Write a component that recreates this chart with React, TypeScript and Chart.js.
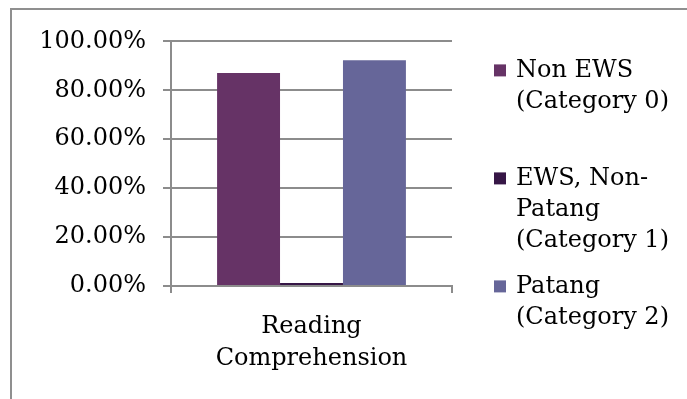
import React, { useEffect, useRef } from 'react';
import { Chart, registerables } from 'chart.js';

Chart.register(...registerables);

// ---- data ----
const categories = [['Reading', 'Comprehension']];
const seriesNames = ['Non EWS (Category 0)', 'EWS, Non-Patang (Category 1)', 'Patang (Category 2)'];
const legendLines = [
  ['Non EWS', '(Category 0)'],
  ['EWS, Non-', 'Patang', '(Category 1)'],
  ['Patang', '(Category 2)'],
];
const nonEws = [87.1];
const ewsNonPatang = [1.2];
const patang = [92.3];
const seriesColors = ['#663366', '#361646', '#666699'];
const yMin = 0;
const yMax = 100;
const yStep = 20;

const FONT_FAMILY = '"DejaVu Serif", serif';
const FONT_SIZE = 24;
const GRID = '#8c8c8c';

const legendPlugin = {
  id: 'sideLegend',
  afterDraw(chart: any) {
    const { ctx, chartArea } = chart;
    const x0 = chartArea.right + 42;
    const textX = chartArea.right + 64;
    const lineH = 31;
    const step = 108;
    ctx.save();
    ctx.font = `${FONT_SIZE}px ${FONT_FAMILY}`;
    ctx.textBaseline = 'alphabetic';
    ctx.textAlign = 'left';
    chart.data.datasets.forEach((ds: any, i: number) => {
      const base = chartArea.top + 36 + i * step;
      ctx.fillStyle = ds.backgroundColor;
      ctx.fillRect(x0, base - 13, 12, 12);
      ctx.fillStyle = '#000';
      legendLines[i].forEach((line, j) => {
        ctx.fillText(line, textX, base + j * lineH);
      });
    });
    ctx.restore();
  },
};

export default function App() {
  const ref = useRef<HTMLCanvasElement>(null);
  useEffect(() => {
    if (!ref.current) return;
    const datasets = [nonEws, ewsNonPatang, patang].map((d, i) => ({
      label: seriesNames[i],
      data: d,
      backgroundColor: seriesColors[i],
      borderWidth: 0,
      barPercentage: 1,
      categoryPercentage: 0.672,
    }));
    const chart = new Chart(ref.current, {
      type: 'bar',
      data: { labels: categories as any, datasets },
      options: {
        animation: false,
        responsive: false,
        maintainAspectRatio: false,
        layout: { padding: { top: 28, right: 235, left: 0, bottom: 0 } },
        plugins: { legend: { display: false }, tooltip: { enabled: false } },
        scales: {
          x: {
            offset: true,
            grid: { offset: true, drawOnChartArea: false, drawTicks: true, tickLength: 7, color: GRID, lineWidth: 2 },
            border: { display: true, color: GRID, width: 2 },
            ticks: {
              color: '#000',
              padding: 18,
              font: { family: FONT_FAMILY, size: FONT_SIZE, lineHeight: 32 / FONT_SIZE },
              maxRotation: 0,
            },
            afterFit: (s: any) => { s.height = 113; },
          },
          y: {
            min: yMin,
            max: yMax,
            ticks: {
              stepSize: yStep,
              color: '#000',
              padding: 17,
              font: { family: FONT_FAMILY, size: FONT_SIZE },
              callback: (v: any) => `${Number(v).toFixed(2)}%`,
            },
            grid: { color: GRID, lineWidth: 2, drawTicks: true, tickLength: 8 },
            border: { display: true, color: GRID, width: 2 },
            afterFit: (s: any) => { s.width = 159; },
          },
        },
      },
      plugins: [legendPlugin],
    });
    return () => chart.destroy();
  }, []);
  return (
    <div
      style={{
        position: 'absolute',
        left: 10,
        top: 8,
        width: 677,
        height: 391,
        boxSizing: 'border-box',
        borderTop: '2px solid #8f8f8f',
        borderLeft: '2px solid #8f8f8f',
        background: '#fff',
        overflow: 'hidden',
      }}
    >
      <canvas ref={ref} width={675} height={389} style={{ display: 'block', width: 675, height: 389 }} />
    </div>
  );
}
